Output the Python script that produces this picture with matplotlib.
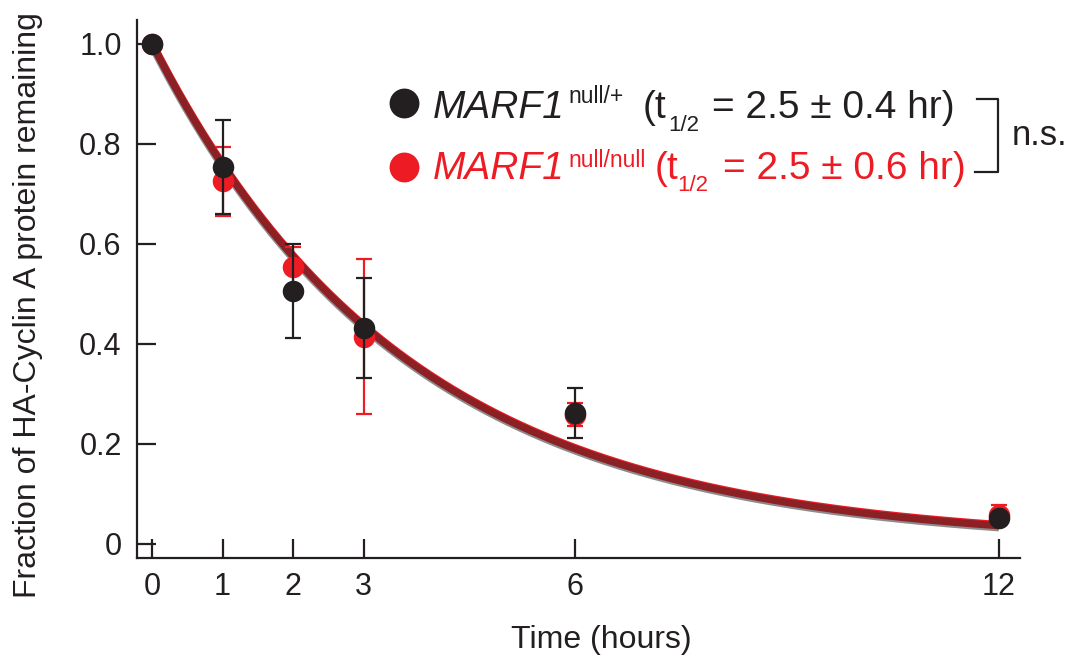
import matplotlib
matplotlib.use("Agg")
import matplotlib.pyplot as plt
from matplotlib.lines import Line2D
import numpy as np

plt.rcParams['font.family'] = ['Liberation Sans', 'DejaVu Sans']

# data
time_hr = [0, 1, 2, 3, 6, 12]
het_mean = [1.0, 0.754, 0.506, 0.431, 0.261, 0.051]
het_err = [0.0, 0.094, 0.094, 0.10, 0.05, 0.008]
null_mean = [1.0, 0.725, 0.554, 0.414, 0.258, 0.058]
null_err = [0.0, 0.069, 0.04, 0.155, 0.023, 0.019]
half_life = [2.5, 2.5]          # fitted t1/2 (hr): null/+, null/null
half_life_err = [0.4, 0.6]
genotypes = ['null/+', 'null/null']
xticks = [0, 1, 2, 3, 6, 12]
yticks = [0, 0.2, 0.4, 0.6, 0.8, 1.0]
yticklabels = ['0', '0.2', '0.4', '0.6', '0.8', '1.0']

BLACK = '#231f20'
RED = '#ed1c24'
CURVE = '#8b2125'

W, H = 1071, 656
fig = plt.figure(figsize=(W / 100, H / 100), dpi=100)


def fx(px):
    return px / W


def fy(py):
    return 1 - py / H


ax = fig.add_axes([fx(137), fy(558), fx(1020) - fx(137), fy(20) - fy(558)])

# fitted decay curves (from the half-lives)
tt = np.linspace(0, 12, 300)
fit_het = 2 ** (-tt / half_life[0])
fit_null = 2 ** (-tt / half_life[1])
ax.plot(tt, fit_null - 0.003, color='#8c8c8c', lw=6.0, zorder=1, solid_capstyle='butt')
ax.plot(tt, fit_null + 0.002, color=RED, lw=5.5, zorder=1.1, solid_capstyle='butt')
ax.plot(tt, fit_het, color=CURVE, lw=5.2, zorder=1.2, solid_capstyle='butt')

# red (null/null) under black (null/+)
ax.errorbar(time_hr, null_mean, yerr=null_err, fmt='none', ecolor=RED,
            elinewidth=1.6, capsize=6, capthick=1.6, zorder=2)
ax.plot(time_hr, null_mean, 'o', color=RED, ms=15.5, mec='none', zorder=3)
ax.errorbar(time_hr, het_mean, yerr=het_err, fmt='none', ecolor=BLACK,
            elinewidth=1.6, capsize=6, capthick=1.6, zorder=4)
ax.plot(time_hr, het_mean, 'o', color=BLACK, ms=15.5, mec='none', zorder=5)

ax.set_xlim(-0.2125, 12.298)
ax.set_ylim(-0.0286, 1.0474)
ax.set_xticks(xticks)
ax.set_xticklabels([str(t) for t in xticks])
ax.set_yticks(yticks)
ax.set_yticklabels(yticklabels)
for s in ['top', 'right']:
    ax.spines[s].set_visible(False)
for s in ['left', 'bottom']:
    ax.spines[s].set_linewidth(1.6)
    ax.spines[s].set_color(BLACK)
ax.tick_params(direction='in', length=14, width=1.6, color=BLACK,
               labelsize=22, labelcolor=BLACK)
ax.tick_params(axis='y', pad=11)
ax.tick_params(axis='x', pad=10)

fig.text(fx(28), fy(305), 'Fraction of HA-Cyclin A protein remaining',
         rotation=90, ha='center', va='center', fontsize=23, color=BLACK)
fig.text(fx(601), fy(648), 'Time (hours)', ha='center', va='baseline',
         fontsize=23, color=BLACK)

# legend (gene name, superscript genotype, t1/2 with subscript)
rows = [
    (103, 118, BLACK, [433, 568, 643, 668, 712], 15, -13),
    (167, 179, RED, [433, 568, 655, 677, 723], 12, -12),
]
for i, (cy, base, col, xs, sup_up, sub_down) in enumerate(rows):
    fig.add_artist(Line2D([fx(404)], [fy(cy)], marker='o', ms=21.5,
                          color=col, mec='none', ls='none'))
    words = [('MARF1', 28, 'italic', 0),
             (genotypes[i], 16.5, 'normal', sup_up),
             ('(t', 28, 'normal', 0),
             ('1/2', 16, 'normal', sub_down),
             ('= %.1f ± %.1f hr)' % (half_life[i], half_life_err[i]), 28, 'normal', 0)]
    for (txt, size, style, dy), x in zip(words, xs):
        fig.text(fx(x), fy(base - dy), txt, fontsize=size, style=style,
                 color=col, va='baseline')

fig.add_artist(Line2D([fx(977), fx(998), fx(998), fx(975)],
                      [fy(99), fy(99), fy(172), fy(172)],
                      color=BLACK, lw=1.6))
fig.text(fx(1012), fy(145), 'n.s.', fontsize=25, color=BLACK, va='baseline')

fig.savefig('out.png', dpi=100)
